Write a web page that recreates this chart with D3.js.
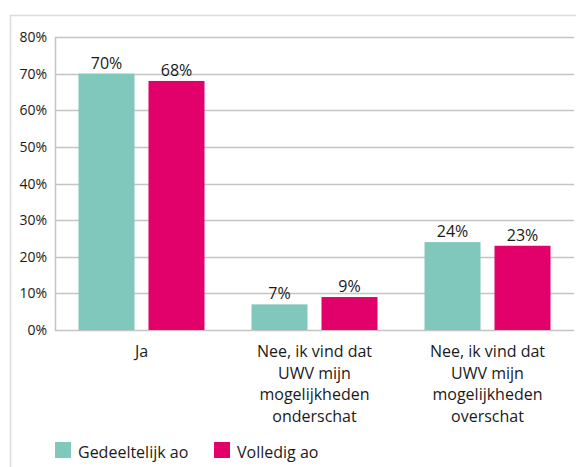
<!DOCTYPE html>
<html>
<head>
<meta charset="utf-8">
<script src="https://cdn.jsdelivr.net/npm/d3@7"></script>
<style>
  body { margin: 0; background: #fff; }
  text { font-family: "Open Sans", sans-serif; fill: #1a1a1a; }
</style>
</head>
<body>
<script>

const categories = ["Ja", "Nee, ik vind dat UWV mijn mogelijkheden onderschat", "Nee, ik vind dat UWV mijn mogelijkheden overschat"];
const categoryLines = [["Ja"], ["Nee, ik vind dat", "UWV mijn", "mogelijkheden", "onderschat"], ["Nee, ik vind dat", "UWV mijn", "mogelijkheden", "overschat"]];
const seriesNames = ["Gedeeltelijk ao", "Volledig ao"];
const gedeeltelijk = [0.70, 0.07, 0.24];
const volledig = [0.68, 0.09, 0.23];
const yTicks = [0, 0.1, 0.2, 0.3, 0.4, 0.5, 0.6, 0.7, 0.8];
const colors = ["#80c8bb", "#e2006a"];

const width = 576, height = 467;
const plotLeft = 55, plotRight = 574, plotTop = 37, plotBottom = 330;

const svg = d3.select("body").append("svg")
  .attr("width", width)
  .attr("height", height);

// frame
svg.append("rect")
  .attr("x", 10.5).attr("y", 15.5)
  .attr("width", width + 10).attr("height", height + 10)
  .attr("fill", "none")
  .attr("stroke", "#dcdcdc")
  .attr("stroke-width", 1.5);

const y = d3.scaleLinear().domain([0, 0.8]).range([plotBottom, plotTop]);
const x0 = d3.scaleBand().domain(categories).range([plotLeft, plotRight])
  .paddingInner(0.2717).paddingOuter(0.1358);
const x1 = d3.scaleBand().domain(seriesNames).range([0, x0.bandwidth()]).paddingInner(0.2);

// gridlines
svg.append("g").selectAll("line")
  .data(yTicks)
  .join("line")
  .attr("x1", plotLeft).attr("x2", plotRight)
  .attr("y1", d => Math.round(y(d)) + 0.5)
  .attr("y2", d => Math.round(y(d)) + 0.5)
  .attr("stroke", "#c4c4c4")
  .attr("stroke-width", 1.5);

// left axis line
svg.append("line")
  .attr("x1", plotLeft + 0.5).attr("x2", plotLeft + 0.5)
  .attr("y1", y(0.8)).attr("y2", y(0) + 1)
  .attr("stroke", "#c4c4c4")
  .attr("stroke-width", 1.5);

// y tick labels
svg.append("g").selectAll("text")
  .data(yTicks)
  .join("text")
  .attr("x", 47)
  .attr("y", d => y(d) + 5)
  .attr("text-anchor", "end")
  .style("font-size", "14px")
  .text(d => d3.format(".0%")(d));

const data = categories.map((c, i) => ({
  cat: c,
  vals: [gedeeltelijk[i], volledig[i]]
}));

const groups = svg.append("g").selectAll("g")
  .data(data)
  .join("g")
  .attr("transform", d => `translate(${x0(d.cat)},0)`);

groups.selectAll("rect")
  .data(d => d.vals.map((v, j) => ({ s: seriesNames[j], v, j })))
  .join("rect")
  .attr("x", d => x1(d.s))
  .attr("width", x1.bandwidth())
  .attr("y", d => y(d.v))
  .attr("height", d => y(0) - y(d.v))
  .attr("fill", d => colors[d.j]);

groups.selectAll(".val")
  .data(d => d.vals.map((v, j) => ({ s: seriesNames[j], v, j })))
  .join("text")
  .attr("class", "val")
  .attr("x", d => x1(d.s) + x1.bandwidth() / 2)
  .attr("y", d => y(d.v) - 5)
  .attr("text-anchor", "middle")
  .style("font-size", "16px")
  .text(d => d3.format(".0%")(d.v));

// category labels
svg.append("g").selectAll("text")
  .data(categories)
  .join("text")
  .attr("text-anchor", "middle")
  .style("font-size", "16px")
  .each(function(d, i) {
    const t = d3.select(this);
    categoryLines[i].forEach((line, k) => {
      t.append("tspan")
        .attr("x", x0(d) + x0.bandwidth() / 2)
        .attr("y", 357 + k * 21.7)
        .text(line);
    });
  });

// legend
const legendX = [55, 214];
const legend = svg.append("g").selectAll("g")
  .data(seriesNames)
  .join("g")
  .attr("transform", (d, i) => `translate(${legendX[i]},442)`);
legend.append("rect")
  .attr("width", 16).attr("height", 16)
  .attr("fill", (d, i) => colors[i]);
legend.append("text")
  .attr("x", 23).attr("y", 16)
  .style("font-size", "16px")
  .text(d => d);

</script>
</body>
</html>
